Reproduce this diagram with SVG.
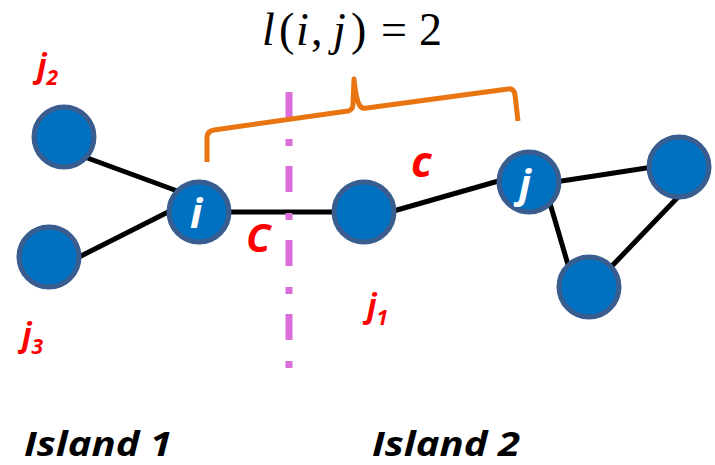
<svg xmlns="http://www.w3.org/2000/svg" width="715" height="465" viewBox="0 0 715 465">
<style>
.node{fill:#0070C0;stroke:#3A5D8F;stroke-width:5}
.edge{stroke:#000;stroke-width:5;fill:none}
.red{fill:#FF0000;font-family:"Open Sans","Liberation Sans",sans-serif;font-weight:bold;font-style:italic}
.wht{fill:#FFFFFF;font-family:"Open Sans","Liberation Sans",sans-serif;font-weight:bold;font-style:italic}
.isl{fill:#000;font-family:"Open Sans","Liberation Sans",sans-serif;font-weight:bold;font-style:italic;font-size:34px}
.math{font-family:"Liberation Serif","Times New Roman",serif;font-size:46px;fill:#000}
</style>
<rect width="715" height="465" fill="#FFFFFF"/>
<g id="connectors">
<line class="edge" x1="82" y1="156" x2="180" y2="192"/>
<line class="edge" x1="77" y1="258" x2="172" y2="210"/>
<line class="edge" x1="228" y1="212" x2="336" y2="212"/>
<line class="edge" x1="390" y1="212" x2="502" y2="180"/>
<line class="edge" x1="555" y1="182" x2="653" y2="167"/>
<line class="edge" x1="549" y1="200" x2="569" y2="268"/>
<line class="edge" x1="680" y1="195" x2="610" y2="268"/>
</g>
<g id="cut">
<line x1="289" y1="92" x2="289" y2="368" stroke="#DA6FDB" stroke-width="7" stroke-dasharray="26 21 7 20"/>
</g>
<g id="brace">
<path d="M207,162 L207,138 Q207,131 214,130 L348,111 Q353,110 353,104 L354,79 Q356,100 360,106 Q362,109 367,108 L508,89 Q514,88 515,95 L518,121" fill="none" stroke="#E97511" stroke-width="5" stroke-linejoin="round"/>
</g>
<g id="node-j2"><circle class="node" cx="64" cy="137" r="30"/></g>
<g id="node-j3"><circle class="node" cx="49" cy="257" r="30"/></g>
<g id="node-i"><circle class="node" cx="199" cy="212" r="30"/><text class="wht" x="190" y="228" font-size="41">i</text></g>
<g id="node-j1"><circle class="node" cx="364" cy="212" r="30"/></g>
<g id="node-j"><circle class="node" cx="529" cy="182" r="30"/><text class="wht" x="519" y="198" font-size="40">j</text></g>
<g id="node-rt"><circle class="node" cx="679" cy="167" r="30"/></g>
<g id="node-bt"><circle class="node" cx="589" cy="287" r="30"/></g>
<g id="labels">
<text class="red" x="37" y="77" font-size="32">j<tspan font-size="21" dy="8">2</tspan></text>
<text class="red" x="22" y="346" font-size="32">j<tspan font-size="21" dy="8">3</tspan></text>
<text class="red" x="367" y="317" font-size="32">j<tspan font-size="21" dy="8">1</tspan></text>
<text class="red" x="246" y="252" font-size="40">C</text>
<text class="red" x="411" y="177" font-size="43">c</text>
<text class="isl" x="24" y="456" textLength="148" lengthAdjust="spacingAndGlyphs">Island 1</text>
<text class="isl" x="372" y="456" textLength="148" lengthAdjust="spacingAndGlyphs">Island 2</text>
<text class="math" y="45"><tspan x="262" font-style="italic">l</tspan><tspan x="279">(</tspan><tspan x="296" font-style="italic">i</tspan><tspan x="311">,</tspan><tspan x="333" font-style="italic">j</tspan><tspan x="351">)</tspan><tspan x="381">=</tspan><tspan x="419">2</tspan></text>
</g>
</svg>
